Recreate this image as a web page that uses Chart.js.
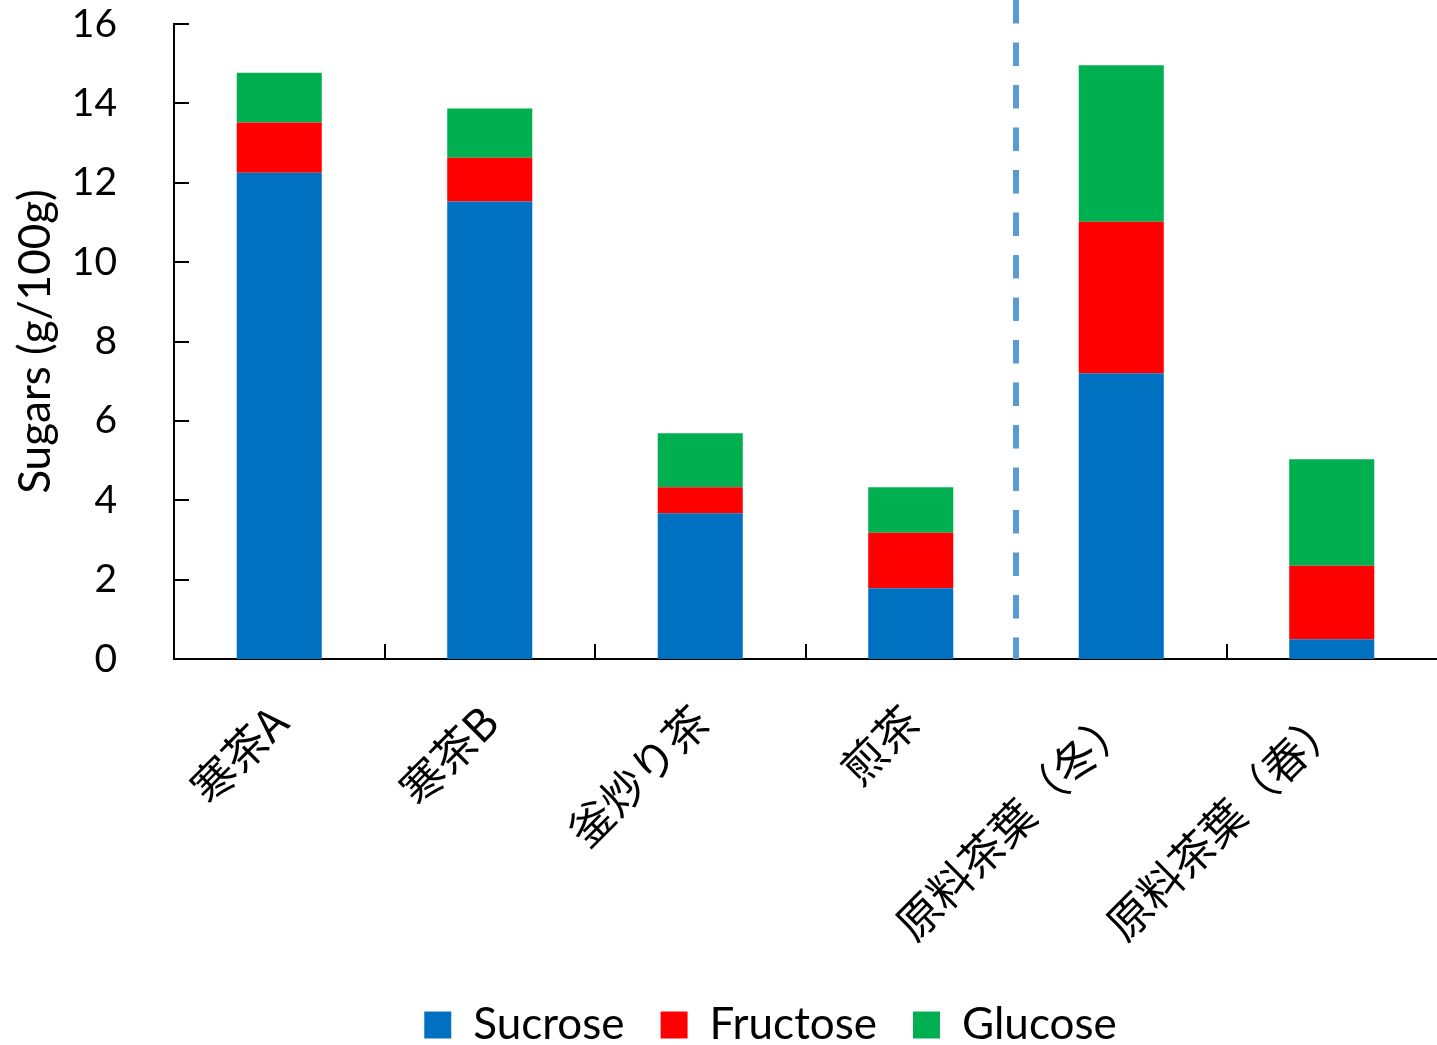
<!DOCTYPE html>
<html lang="ja">
<head>
<meta charset="utf-8">
<title>Sugars (g/100g)</title>
<script src="https://cdn.jsdelivr.net/npm/chart.js@4.4.1/dist/chart.umd.min.js"></script>
<style>
  html, body { margin: 0; padding: 0; background: #fff; }
  #wrap { width: 1437px; height: 1045px; position: relative; }
</style>
</head>
<body>
<div id="wrap"><canvas id="chart"></canvas></div>
<script>
// Tea samples on the category axis
const categories = ['寒茶A', '寒茶B', '釜炒り茶', '煎茶', '原料茶葉（冬）', '原料茶葉（春）'];

// Sugar content per sample, g/100g (stacked)
const sucrose  = [12.25, 11.53, 3.67, 1.78, 7.20, 0.50];
const fructose = [1.27, 1.10, 0.66, 1.40, 3.82, 1.85];
const glucose  = [1.25, 1.24, 1.36, 1.15, 3.94, 2.68];

// Value axis ticks
const yTicks = [0, 2, 4, 6, 8, 10, 12, 14, 16];

// Dashed separator sits after this category index (processed teas | raw leaves)
const dividerAfter = 3;

const AXIS_W = 174;
const PLOT_BOTTOM = 659;

// Inward tick marks on both axes plus the dashed group separator
const axisDecor = {
  id: 'axisDecor',
  afterLayout(chart) {
    // centre the legend under the plot area and lower it a little
    const lg = chart.legend;
    if (lg) {
      lg.left += 52;
      lg.right += 52;
      lg.top += 12;
      lg.bottom += 12;
    }
  },
  afterDraw(chart) {
    const { ctx, chartArea, scales: { x, y } } = chart;
    ctx.save();
    ctx.strokeStyle = '#000';
    ctx.lineWidth = 2;
    ctx.beginPath();
    yTicks.forEach(v => {
      const py = Math.round(y.getPixelForValue(v));
      ctx.moveTo(chartArea.left, py);
      ctx.lineTo(chartArea.left + 15, py);
    });
    for (let i = 1; i < categories.length; i++) {
      const px = Math.round((x.getPixelForValue(i - 1) + x.getPixelForValue(i)) / 2);
      ctx.moveTo(px, chartArea.bottom);
      ctx.lineTo(px, chartArea.bottom - 15);
    }
    ctx.stroke();

    const dx = (x.getPixelForValue(dividerAfter) + x.getPixelForValue(dividerAfter + 1)) / 2;
    ctx.strokeStyle = '#5B9BD5';
    ctx.lineWidth = 6;
    ctx.setLineDash([23.5, 19]);
    ctx.beginPath();
    ctx.moveTo(dx, 0);
    ctx.lineTo(dx, y.getPixelForValue(0));
    ctx.stroke();
    ctx.restore();
  }
};

new Chart(document.getElementById('chart'), {
  type: 'bar',
  data: {
    labels: categories,
    datasets: [
      { label: 'Sucrose',  data: sucrose,  backgroundColor: '#0070C0' },
      { label: 'Fructose', data: fructose, backgroundColor: '#FF0000' },
      { label: 'Glucose',  data: glucose,  backgroundColor: '#00B050' }
    ]
  },
  options: {
    responsive: true,
    maintainAspectRatio: false,
    animation: false,
    devicePixelRatio: 1,
    datasets: { bar: { barPercentage: 1, categoryPercentage: 0.404, borderWidth: 0 } },
    layout: { padding: { top: 24, right: 0, bottom: 0, left: 0 } },
    plugins: {
      tooltip: { enabled: false },
      legend: {
        position: 'bottom',
        labels: {
          color: '#000',
          font: { family: 'Lato', size: 44 },
          boxWidth: 27,
          boxHeight: 27,
          padding: 36
        }
      }
    },
    scales: {
      x: {
        stacked: true,
        offset: true,
        grid: { display: false, drawTicks: false },
        border: { display: true, color: '#000', width: 2 },
        ticks: {
          color: '#000',
          font: { family: '"Noto Sans CJK JP"', size: 44 },
          minRotation: 45,
          maxRotation: 45,
          autoSkip: false,
          padding: 36
        },
        afterFit(scale) {
          const lg = scale.chart.legend;
          const lh = lg ? lg.height : 0;
          scale.height = scale.chart.height - PLOT_BOTTOM - lh;
          scale.paddingLeft = 0;
          scale.paddingRight = 0;
        }
      },
      y: {
        stacked: true,
        min: 0,
        max: 16,
        grid: { display: false, drawTicks: false },
        border: { display: true, color: '#000', width: 2 },
        afterBuildTicks(scale) {
          scale.ticks = yTicks.map(v => ({ value: v }));
        },
        ticks: {
          color: '#000',
          font: { family: 'Lato', size: 39 },
          padding: 57
        },
        title: {
          display: true,
          text: 'Sugars (g/100g)',
          color: '#000',
          font: { family: 'Lato', size: 44 },
          padding: { top: 9, bottom: 0 }
        },
        afterFit(scale) {
          scale.width = AXIS_W;
          scale.paddingTop = 0;
          scale.paddingBottom = 0;
        }
      }
    }
  },
  plugins: [axisDecor]
});
</script>
</body>
</html>
